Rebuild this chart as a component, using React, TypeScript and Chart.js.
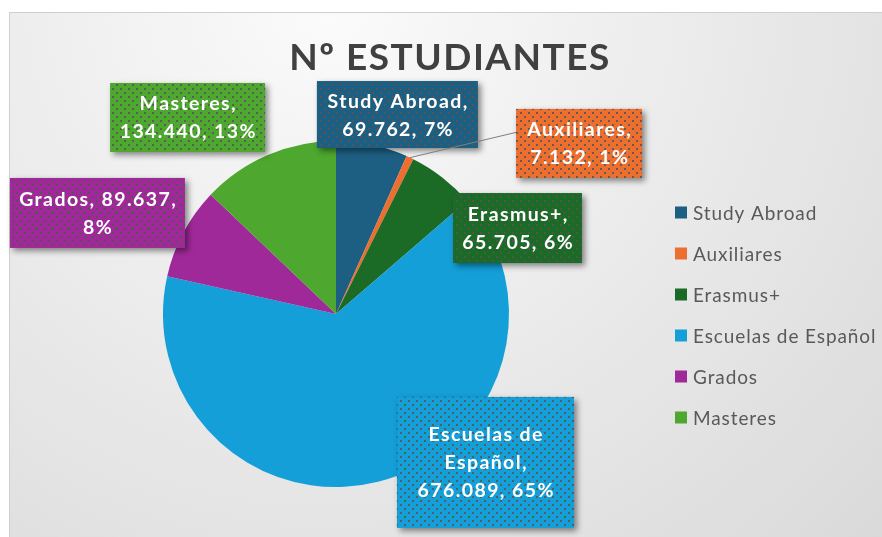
import React, { useEffect, useRef } from "react";
import { Chart, registerables } from "chart.js";

Chart.register(...registerables);

// ---------- data ----------
const chartTitle = "Nº ESTUDIANTES";
const categories = ["Study Abroad", "Auxiliares", "Erasmus+", "Escuelas de Español", "Grados", "Masteres"];
const students = [69762, 7132, 65705, 676089, 89637, 134440];
const valueLabels = ["69.762", "7.132", "65.705", "676.089", "89.637", "134.440"];
const percentLabels = ["7%", "1%", "6%", "65%", "8%", "13%"];

// ---------- styles ----------
const sliceColors = ["#1c5f82", "#ec6f30", "#1b6b27", "#149fd8", "#a0299a", "#4ea72e"];
// label box centres, relative to the pie centre in units of radius
const labelLayout = [
  { dx: 0.355, dy: -1.153, w: 161, h: 67, wrap: 150, leader: false },
  { dx: 1.405, dy: -0.986, w: 126, h: 69, wrap: 118, leader: true },
  { dx: 1.049, dy: -0.497, w: 129, h: 70, wrap: 125, leader: false },
  { dx: 0.864, dy: 0.858, w: 177, h: 131, wrap: 150, leader: false },
  { dx: -1.379, dy: -0.584, w: 175, h: 70, wrap: 170, leader: false },
  { dx: -0.858, dy: -1.136, w: 155, h: 69, wrap: 150, leader: false },
];

function makePattern(ctx: CanvasRenderingContext2D) {
  const c = document.createElement("canvas");
  c.width = 8;
  c.height = 8;
  const p = c.getContext("2d")!;
  p.fillStyle = "rgba(85,85,85,0.85)";
  p.fillRect(0, 0, 2, 2);
  p.fillRect(4, 4, 2, 2);
  return ctx.createPattern(c, "repeat")!;
}

function wrapText(ctx: CanvasRenderingContext2D, text: string, maxW: number) {
  const words = text.split(" ");
  const lines: string[] = [];
  let cur = "";
  for (const w of words) {
    const t = cur ? cur + " " + w : w;
    if (cur && ctx.measureText(t).width > maxW) {
      lines.push(cur);
      cur = w;
    } else cur = t;
  }
  if (cur) lines.push(cur);
  return lines;
}

const decorPlugin = {
  id: "decor",
  beforeDraw(chart: any) {
    const ctx: CanvasRenderingContext2D = chart.ctx;
    const W = chart.width;
    const H = chart.height;
    ctx.save();
    ctx.fillStyle = "#ffffff";
    ctx.fillRect(0, 0, W, H);
    const g = ctx.createRadialGradient(330, 0, 0, 330, 0, 900);
    g.addColorStop(0, "#fbfbfb");
    g.addColorStop(1, "#d4d4d4");
    ctx.fillStyle = g;
    ctx.fillRect(9, 12, W, H);
    ctx.strokeStyle = "#cfcfcf";
    ctx.lineWidth = 1;
    ctx.strokeRect(9.5, 12.5, W + 10, H + 10);
    ctx.restore();
  },
  afterDraw(chart: any) {
    const ctx: CanvasRenderingContext2D = chart.ctx as any;
    ctx.save();
    // title
    (ctx as any).letterSpacing = "1.5px";
    ctx.font = "bold 37px Lato";
    ctx.fillStyle = "#404040";
    ctx.textAlign = "center";
    ctx.textBaseline = "alphabetic";
    ctx.fillText(chartTitle, 450, 70);

    // legend
    (ctx as any).letterSpacing = "0.9px";
    ctx.font = "19px Lato";
    ctx.textAlign = "left";
    categories.forEach((c, i) => {
      const cy = 212.5 + i * 41;
      ctx.fillStyle = sliceColors[i];
      ctx.fillRect(675, cy - 6, 12, 12);
      ctx.fillStyle = "#595959";
      ctx.fillText(c, 693, cy + 7);
    });

    // data labels
    const pattern = makePattern(ctx);
    const meta = chart.getDatasetMeta(0);
    meta.data.forEach((arc: any, i: number) => {
      const { x, y, outerRadius, startAngle, endAngle } = arc.getProps(
        ["x", "y", "outerRadius", "startAngle", "endAngle"],
        true
      );
      const L = labelLayout[i];
      const bx = x + L.dx * outerRadius;
      const by = y + L.dy * outerRadius;
      const left = bx - L.w / 2;
      const top = by - L.h / 2;
      if (L.leader) {
        const mid = (startAngle + endAngle) / 2;
        ctx.strokeStyle = "#7f7f7f";
        ctx.lineWidth = 1;
        ctx.beginPath();
        ctx.moveTo(x + Math.cos(mid) * outerRadius, y + Math.sin(mid) * outerRadius);
        ctx.lineTo(left, top + L.h * 0.34);
        ctx.stroke();
      }
      ctx.save();
      ctx.shadowColor = "rgba(0,0,0,0.45)";
      ctx.shadowBlur = 6;
      ctx.shadowOffsetX = 3;
      ctx.shadowOffsetY = 3;
      ctx.fillStyle = sliceColors[i];
      ctx.fillRect(left, top, L.w, L.h);
      ctx.restore();
      ctx.fillStyle = pattern;
      ctx.fillRect(left, top, L.w, L.h);

      (ctx as any).letterSpacing = "1.4px";
      ctx.font = "bold 19.5px Lato";
      ctx.fillStyle = "#ffffff";
      ctx.textAlign = "center";
      const text = `${categories[i]}, ${valueLabels[i]}, ${percentLabels[i]}`;
      const lines = wrapText(ctx, text, L.wrap);
      const lh = 28;
      const first = by - ((lines.length - 1) * lh) / 2;
      lines.forEach((ln, k) => {
        ctx.fillText(ln, bx + 0.7, first + k * lh + 7);
      });
    });
    ctx.restore();
  },
};

export default function App() {
  const ref = useRef<HTMLCanvasElement>(null);
  useEffect(() => {
    document.body.style.margin = "0";
    const chart = new Chart(ref.current!, {
      type: "pie",
      data: {
        labels: categories,
        datasets: [
          {
            data: students,
            backgroundColor: sliceColors,
            borderWidth: 0,
            hoverOffset: 0,
          },
        ],
      },
      options: {
        responsive: false,
        animation: false,
        events: [],
        layout: { padding: { top: 141, bottom: 50, left: 163, right: 373 } },
        plugins: {
          legend: { display: false },
          title: { display: false },
          tooltip: { enabled: false },
        },
      },
      plugins: [decorPlugin],
    });
    return () => chart.destroy();
  }, []);
  return (
    <div style={{ width: 882, height: 537 }}>
      <canvas ref={ref} width={882} height={537} style={{ display: "block" }} />
    </div>
  );
}
